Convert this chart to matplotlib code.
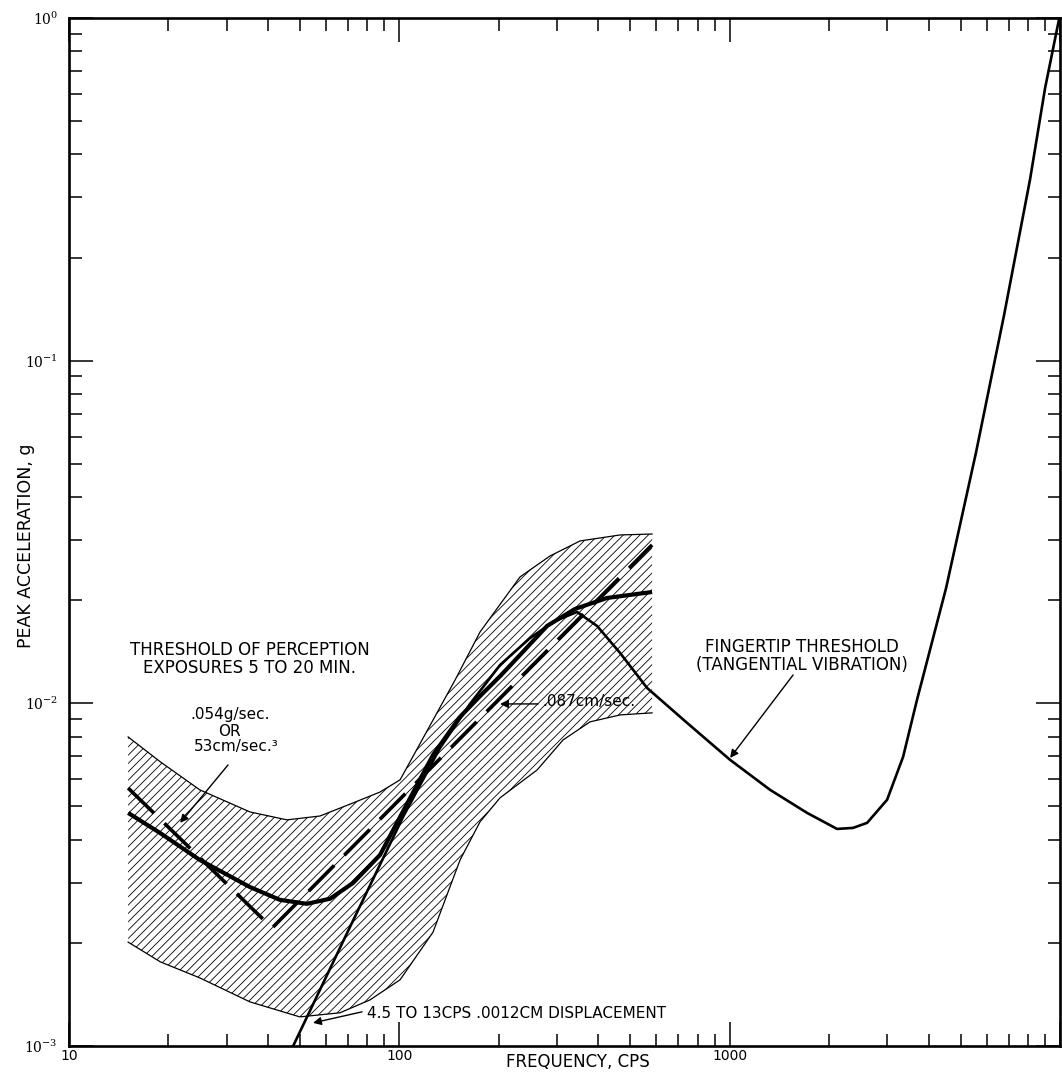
import matplotlib
matplotlib.use("Agg")
import matplotlib.pyplot as plt
from matplotlib.ticker import LogLocator, NullFormatter, FixedLocator, FixedFormatter

plt.rcParams['font.family'] = ['DejaVu Sans']
plt.rcParams['mathtext.fontset'] = 'dejavuserif'
plt.rcParams['hatch.linewidth'] = 0.6

# ---------------- data (frequency in cps, peak acceleration in g) ----------------
band_upper_f = [15.1, 18.9, 24.9, 35.3, 45.7, 57.5, 72.4, 87.4, 100.5, 125.6, 147.5,
                175.5, 231.9, 285.9, 352.5, 465.8, 582.3]
band_upper_a = [0.00798, 0.00675, 0.00559, 0.00482, 0.00457, 0.00469, 0.00512, 0.00551,
                0.00598, 0.00883, 0.0117, 0.01615, 0.02338, 0.02692, 0.02978, 0.0310, 0.0312]

band_lower_f = [15.1, 18.9, 24.9, 35.3, 50.0, 66.1, 81.5, 100.5, 126.5, 152.7, 175.5,
                201.8, 261.2, 313.1, 377.9, 465.8, 582.3]
band_lower_a = [0.00201, 0.00176, 0.00158, 0.001345, 0.001216, 0.00125, 0.001363, 0.00156,
                0.00215, 0.00349, 0.00451, 0.00530, 0.00639, 0.00782, 0.00883, 0.00925, 0.00938]

mean_f = [15.1, 18.9, 24.9, 35.3, 43.5, 52.5, 61.7, 72.4, 87.4, 100.5, 126.5, 152.7,
          175.5, 201.8, 231.9, 280.0, 340.4, 425.4, 582.3]
mean_a = [0.00479, 0.00418, 0.00349, 0.00291, 0.00267, 0.0026, 0.00269, 0.00299, 0.00361,
          0.00466, 0.00707, 0.00913, 0.0105, 0.0120, 0.01384, 0.01682, 0.01886, 0.0203, 0.02113]

const_f = [15.1, 41.2, 582.3]
const_a = [0.00566, 0.00221, 0.029]

finger_f = [47.7, 70.9, 102.6, 132.8, 163.7, 201.8, 248.7, 296.0, 345.2, 396.8, 465.8,
            562.3, 743, 1003, 1326, 1715, 2114, 2364, 2607, 2996, 3350, 3690, 4520,
            5572, 6773, 8120, 9014, 9950]
finger_a = [0.001, 0.002226, 0.00466, 0.00741, 0.00996, 0.01294, 0.01551, 0.0174, 0.01848,
            0.01682, 0.01403, 0.01109, 0.00877, 0.00684, 0.00559, 0.00479, 0.0043, 0.00433,
            0.00448, 0.00523, 0.00698, 0.01023, 0.0217, 0.0541, 0.136, 0.339, 0.625, 1.0]

x_ticks = [10, 100, 1000, 10000]
x_tick_labels = ['10', '100', '1000', '']
y_ticks = [1e-3, 1e-2, 1e-1, 1]
y_tick_labels = [r'$10^{-3}$', r'$10^{-2}$', r'$10^{-1}$', r'$10^{0}$']

# ---------------- figure ----------------
W, H = 1062, 1073
fig = plt.figure(figsize=(W / 100, H / 100), dpi=100)
ax = fig.add_axes([69 / W, 1 - 1046 / H, (1060 - 69) / W, (1046 - 18) / H])
ax.set_xscale('log')
ax.set_yscale('log')
ax.set_xlim(10, 1e4)
ax.set_ylim(1e-3, 1)

# hatched band
poly_f = band_upper_f + band_lower_f[::-1]
poly_a = band_upper_a + band_lower_a[::-1]
ax.fill(poly_f, poly_a, facecolor='none', edgecolor='black', hatch='////', linewidth=0)
ax.plot(band_upper_f, band_upper_a, color='black', lw=0.9)
ax.plot(band_lower_f, band_lower_a, color='black', lw=0.9)

# curves
ax.plot(finger_f, finger_a, color='black', lw=1.9, solid_joinstyle='round')
ax.plot(mean_f, mean_a, color='black', lw=3.0, solid_capstyle='butt', solid_joinstyle='round')
ax.plot(const_f, const_a, color='black', lw=2.6, dashes=(10, 4))

# ticks
ax.xaxis.set_major_locator(FixedLocator(x_ticks))
ax.xaxis.set_major_formatter(FixedFormatter(x_tick_labels))
ax.xaxis.set_minor_locator(LogLocator(base=10, subs=range(2, 10)))
ax.xaxis.set_minor_formatter(NullFormatter())
ax.yaxis.set_major_locator(FixedLocator(y_ticks))
ax.yaxis.set_major_formatter(FixedFormatter(y_tick_labels))
ax.yaxis.set_minor_locator(LogLocator(base=10, subs=range(2, 10)))
ax.yaxis.set_minor_formatter(NullFormatter())
ax.tick_params(which='both', direction='in', top=True, right=True, width=1.1)
ax.tick_params(which='major', length=17)
ax.tick_params(which='minor', length=9)
ax.tick_params(axis='x', which='major', pad=2, labelsize=10)
ax.tick_params(axis='y', which='major', pad=8, labelsize=10)
for s in ax.spines.values():
    s.set_linewidth(1.9)

# ---------------- annotations ----------------
fs = 12
arrow = dict(arrowstyle='-|>', color='black', lw=1.0, mutation_scale=12,
             shrinkA=0, shrinkB=0)
ax.text(35.3, 0.01431, 'THRESHOLD OF PERCEPTION', ha='center', va='center', fontsize=fs)
ax.text(35.3, 0.01269, 'EXPOSURES 5 TO 20 MIN.', ha='center', va='center', fontsize=fs)

ax.text(30.7, 0.00925, '.054g/sec.', ha='center', va='center', fontsize=11)
ax.text(30.7, 0.00825, 'OR', ha='center', va='center', fontsize=11)
ax.text(32.0, 0.00746, '53cm/sec.³', ha='center', va='center', fontsize=11)
ax.annotate('', xy=(21.7, 0.00448), xytext=(30.3, 0.00661), arrowprops=arrow)

ax.text(270.4, 0.0101, '.087cm/sec.', ha='left', va='center', fontsize=11)
ax.annotate('', xy=(201.8, 0.00996), xytext=(263, 0.00996), arrowprops=arrow)

ax.text(79.9, 0.00124, '4.5 TO 13CPS .0012CM DISPLACEMENT', ha='left', va='center',
        fontsize=11)
ax.annotate('', xy=(54.8, 0.001168), xytext=(77.1, 0.001258), arrowprops=arrow)

ax.text(1656, 0.0146, 'FINGERTIP THRESHOLD', ha='center', va='center', fontsize=fs)
ax.text(1656, 0.01294, '(TANGENTIAL VIBRATION)', ha='center', va='center', fontsize=fs)
ax.annotate('', xy=(1003, 0.00693), xytext=(1556, 0.0121), arrowprops=arrow)

fig.text(578 / W, 1 - 1062 / H, 'FREQUENCY, CPS', ha='center', va='center', fontsize=12)
fig.text(26 / W, 1 - 546 / H, 'PEAK ACCELERATION, g', ha='center', va='center',
         rotation=90, fontsize=12.5)

fig.savefig('out.png', dpi=100)
